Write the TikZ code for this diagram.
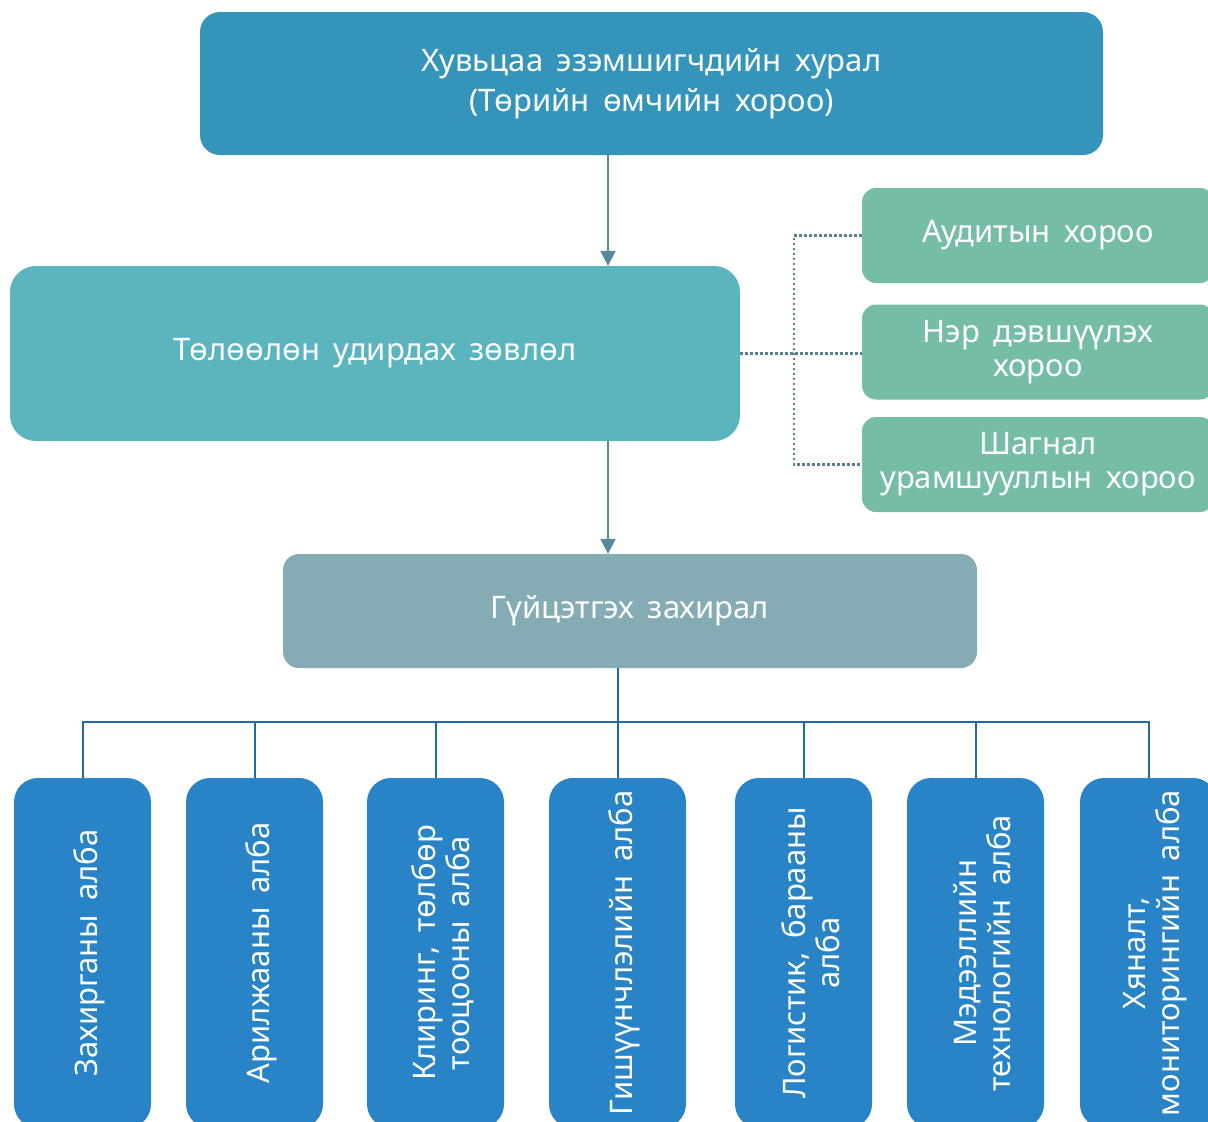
\documentclass[tikz,border=0pt]{standalone}
\usepackage{fontspec}
\setmainfont{Noto Sans}[WordSpace=1.7]
\usetikzlibrary{arrows.meta}
\definecolor{topc}{HTML}{3594BA}
\definecolor{midc}{HTML}{5AB5BF}
\definecolor{comc}{HTML}{76BDA7}
\definecolor{ceoc}{HTML}{85ACB5}
\definecolor{depc}{HTML}{2884C6}
\definecolor{arrc}{HTML}{578B9B}
\definecolor{dotc}{HTML}{5C7F8C}
\definecolor{treec}{HTML}{1F6BA5}
\tikzset{
  box/.style={rounded corners=20pt, text=white, inner sep=0pt, align=center,
    font=\fontsize{31}{34}\selectfont},
  combox/.style={box, fill=comc, rounded corners=14pt, minimum width=352pt, minimum height=95pt},
  depbox/.style={box, fill=depc, rounded corners=24pt, minimum width=137pt, minimum height=350pt},
  deptext/.style={text=white, inner sep=0pt, align=center, xshift=7pt, rotate=90,
    font=\fontsize{31}{34}\selectfont},
  arr/.style={draw=arrc, line width=2pt, -{Triangle[width=15pt,length=15pt]}},
  dotline/.style={draw=dotc, line width=2.5pt, dash pattern=on 2.5pt off 2.5pt},
  treeline/.style={draw=treec, line width=2pt}
}
\begin{document}
\begin{tikzpicture}[x=1pt,y=-1pt]
\useasboundingbox (0,0) rectangle (1208,1122);
\clip (0,0) rectangle (1208,1122);
\fill[white] (0,0) rectangle (1208,1122);

\node[box, fill=topc, minimum width=903pt, minimum height=143pt, font=\fontsize{31}{40}\selectfont] (top) at (651.5,83.5)
  {Хувьцаа эзэмшигчдийн хурал\\(Төрийн өмчийн хороо)};
\node[box, fill=midc, rounded corners=26pt, minimum width=730pt, minimum height=175pt] (mid) at (375,353.5)
  {Төлөөлөн удирдах зөвлөл};
\node[box, fill=ceoc, rounded corners=16pt, minimum width=694pt, minimum height=114pt] (ceo) at (630,611)
  {Гүйцэтгэх захирал};

\node[combox] (c1) at (1038,235.5) {Аудитын хороо};
\node[combox] (c2) at (1038,352) {Нэр дэвшүүлэх\\хороо};
\node[combox] (c3) at (1038,464.5) {Шагнал\\урамшууллын хороо};

\coordinate (ax) at (608,0);
\coordinate (jx) at (794,0);
\draw[arr] (top.south -| ax) -- (mid.north -| ax);
\draw[arr] (mid.south -| ax) -- (ceo.north -| ax);

\draw[dotline] (mid.east) -- (mid.east -| c2.west);
\draw[dotline] (c1.west) -- (c1.west -| jx) -- (c3.west -| jx) -- (c3.west);

\node[depbox] (d1) at (82.5,953) {};
\node[depbox] (d2) at (254.5,953) {};
\node[depbox] (d3) at (435.5,953) {};
\node[depbox] (d4) at (617.5,953) {};
\node[depbox] (d5) at (803.5,953) {};
\node[depbox] (d6) at (975.5,953) {};
\node[depbox] (d7) at (1148.5,953) {};
\node[deptext] (t1) at (d1.center) {Захирганы алба};
\node[deptext] (t2) at (d2.center) {Арилжааны алба};
\node[deptext] (t3) at (d3.center) {Клиринг, төлбөр\\тооцооны алба};
\node[deptext] (t4) at (d4.center) {Гишүүнчлэлийн алба};
\node[deptext] (t5) at (d5.center) {Логистик, барааны\\алба};
\node[deptext] (t6) at (d6.center) {Мэдээллийн\\технологийн алба};
\node[deptext] (t7) at (d7.center) {Хяналт,\\мониторингийн алба};

\coordinate (bus) at (0,722);
\draw[treeline] (ceo.south -| d4.north) -- (d4.north);
\draw[treeline] (d1.north) -- (bus -| d1.north) -- (bus -| d7.north) -- (d7.north);
\foreach \n in {d2,d3,d5,d6} \draw[treeline] (bus -| \n.north) -- (\n.north);
\end{tikzpicture}
\end{document}
